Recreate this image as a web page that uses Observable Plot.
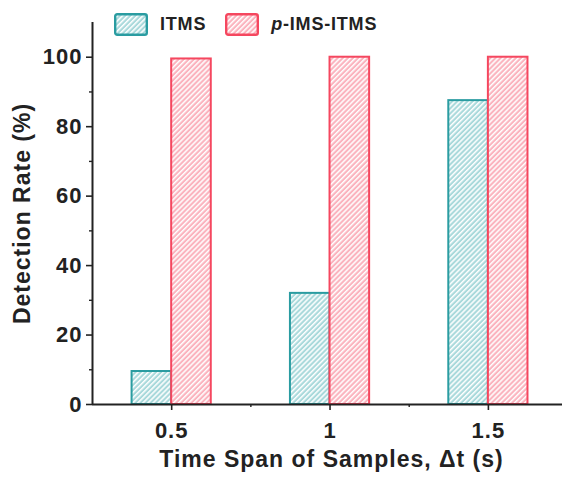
<!DOCTYPE html>
<html>
<head>
<meta charset="utf-8">
<script src="https://cdn.jsdelivr.net/npm/d3@7"></script>
<script src="https://cdn.jsdelivr.net/npm/@observablehq/plot@0.6"></script>
<style>
  html, body { margin: 0; padding: 0; background: #fff; }
  #wrap { position: relative; width: 562px; height: 479px; font-family: "Liberation Sans", Arial, sans-serif; }
  #legend { position: absolute; left: 114px; top: 13px; display: flex; align-items: center; font-weight: bold; font-size: 18px; color: #222; letter-spacing: 0.8px; }
  #legend .item { display: flex; align-items: center; }
  #legend svg { display: block; }
  .lab { margin-left: 12px; }
</style>
</head>
<body>
<svg width="0" height="0" style="position:absolute">
  <defs>
    <pattern id="hatchTeal" patternUnits="userSpaceOnUse" width="3.6" height="3.6" patternTransform="rotate(45)">
      <rect width="3.6" height="3.6" fill="#a9d9db"></rect>
      <rect width="1.5" height="3.6" fill="#ffffff"></rect>
    </pattern>
    <pattern id="hatchPink" patternUnits="userSpaceOnUse" width="3.6" height="3.6" patternTransform="rotate(45)">
      <rect width="3.6" height="3.6" fill="#fbb3be"></rect>
      <rect width="1.5" height="3.6" fill="#ffffff"></rect>
    </pattern>
  </defs>
</svg>
<div id="wrap">
  <div id="chart"></div>
  <div id="legend">
    <div class="item">
      <svg width="34" height="23"><rect x="1.2" y="1.2" width="31.6" height="20.6" rx="2" fill="url(#hatchTeal)" stroke="#2a9ca1" stroke-width="2.4"></rect></svg>
      <span class="lab">ITMS</span>
    </div>
    <div class="item" style="margin-left:19px">
      <svg width="34" height="23"><rect x="1.2" y="1.2" width="31.6" height="20.6" rx="2" fill="url(#hatchPink)" stroke="#f5475f" stroke-width="2.4"></rect></svg>
      <span class="lab"><i>p</i>-IMS-ITMS</span>
    </div>
  </div>
</div>
<script>
const categories = [0.5, 1, 1.5];
const itms = [9.5, 32, 87.5];
const pims = [99.5, 100, 100];
const yTicks = [0, 20, 40, 60, 80, 100];
const yMinor = [10, 30, 50, 70, 90];
const xTickLabels = ["0.5", "1", "1.5"];
const xMinor = [0.75, 1.25];
const barW = 0.125;

const itmsRows = categories.map((c, i) => ({x: c, v: itms[i]}));
const pimsRows = categories.map((c, i) => ({x: c, v: pims[i]}));

const font = {fontFamily: "Liberation Sans, Arial, sans-serif", fontWeight: "bold"};

const plot = Plot.plot({
  width: 562,
  height: 479,
  marginLeft: 92,
  marginRight: 0,
  marginTop: 22,
  marginBottom: 75,
  style: {background: "#fff", color: "#222", fontFamily: "Liberation Sans, Arial, sans-serif"},
  x: {type: "linear", domain: [0.25, 1.734]},
  y: {domain: [0, 110]},
  marks: [
    Plot.rectY(itmsRows, {x1: d => d.x - barW, x2: d => d.x, y: "v", fill: "url(#hatchTeal)", stroke: "#2a9ca1", strokeWidth: 2}),
    Plot.rectY(pimsRows, {x1: d => d.x, x2: d => d.x + barW, y: "v", fill: "url(#hatchPink)", stroke: "#f5475f", strokeWidth: 2}),
    Plot.ruleX([0.25], {y1: 0, y2: 110, stroke: "#222", strokeWidth: 2}),
    Plot.ruleY([0], {stroke: "#222", strokeWidth: 2}),
    Plot.axisY({ticks: yTicks, tickSize: 6, tickPadding: 4, fontSize: 22, ...font, label: null, strokeWidth: 1.6}),
    Plot.axisY({ticks: yMinor, tickSize: 3, tickFormat: () => "", label: null, strokeWidth: 1.4}),
    Plot.axisX({ticks: categories, tickFormat: (d, i) => xTickLabels[i], tickSize: 6, tickPadding: 12, fontSize: 22, ...font, label: null, strokeWidth: 1.6}),
    Plot.axisX({ticks: xMinor, tickSize: 3, tickFormat: () => "", label: null, strokeWidth: 1.4}),
    Plot.text(["Detection Rate (%)"], {frameAnchor: "left", textAnchor: "middle", rotate: -90, dx: -70, fontSize: 23, ...font, fill: "#222"}),
    Plot.text(["Time Span of Samples, Δt (s)"], {frameAnchor: "bottom", dy: 62, dx: 4, fontSize: 23, ...font, fill: "#222"})
  ]
});
document.getElementById("chart").appendChild(plot);
d3.select(plot).selectAll("text").style("letter-spacing", "1px");
</script>
</body>
</html>
